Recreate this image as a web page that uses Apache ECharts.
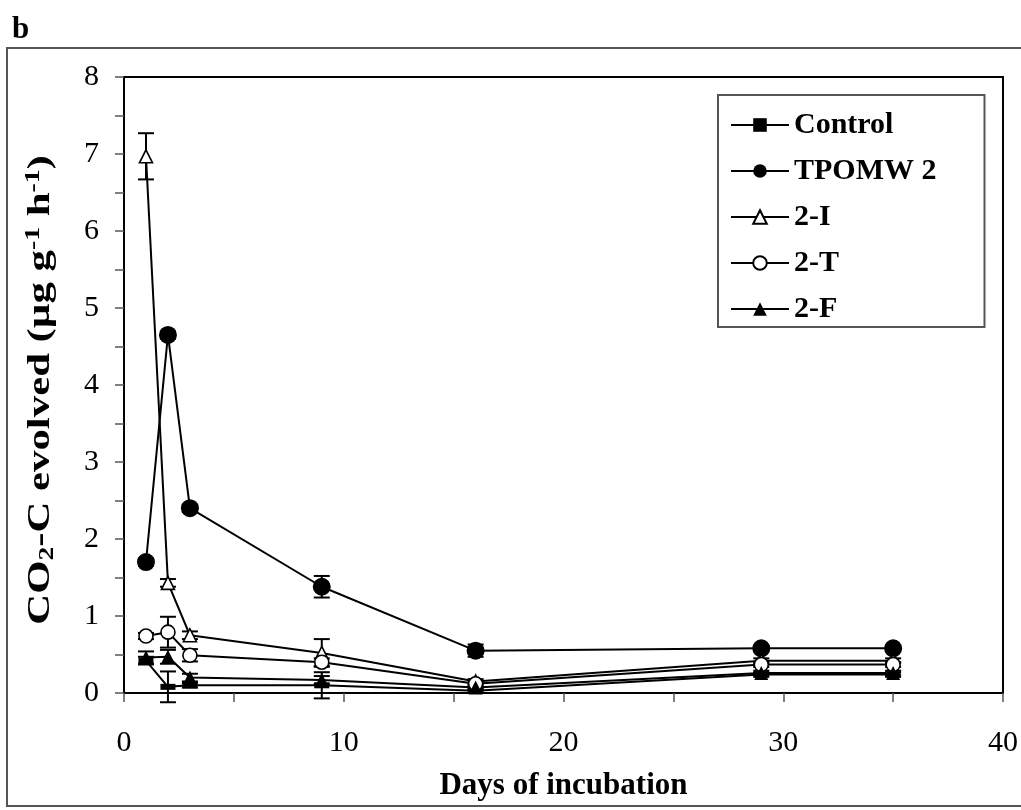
<!DOCTYPE html>
<html>
<head>
<meta charset="utf-8">
<script src="https://cdn.jsdelivr.net/npm/echarts@6/dist/echarts.min.js"></script>
<style>
  html, body { margin: 0; padding: 0; background: #fff; }
  #chart { width: 1021px; height: 810px; }
</style>
</head>
<body>
<div id="chart"></div>
<script>
// ---- data ----
var days = [1, 2, 3, 9, 16, 29, 35];
var seriesNames = ['Control', 'TPOMW 2', '2-I', '2-T', '2-F'];
var control = [0.42, 0.08, 0.10, 0.10, 0.03, 0.24, 0.24];
var tpomw2  = [1.70, 4.65, 2.40, 1.38, 0.55, 0.58, 0.58];
var s2I     = [6.97, 1.43, 0.75, 0.52, 0.15, 0.42, 0.42];
var s2T     = [0.74, 0.79, 0.49, 0.40, 0.12, 0.37, 0.37];
var s2F     = [0.46, 0.47, 0.20, 0.17, 0.07, 0.26, 0.26];
var controlErr = [0.05, 0.20, 0.03, 0.17, 0.02, 0.03, 0.03];
var tpomw2Err  = [0.05, 0.05, 0.05, 0.14, 0.08, 0.03, 0.03];
var s2IErr     = [0.30, 0.05, 0.05, 0.18, 0.03, 0.03, 0.03];
var s2TErr     = [0.04, 0.20, 0.08, 0.05, 0.02, 0.03, 0.03];
var s2FErr     = [0.08, 0.09, 0.05, 0.05, 0.02, 0.03, 0.03];
var xTicks = [0, 10, 20, 30, 40];
var yTicks = [0, 1, 2, 3, 4, 5, 6, 7, 8];

var FONT = 'Liberation Serif';

function pairs(vals) {
  return days.map(function (d, i) { return [d, vals[i]]; });
}
function errData(vals, errs) {
  return days.map(function (d, i) { return [d, vals[i] - errs[i], vals[i] + errs[i]]; });
}

function errSeries(name, vals, errs) {
  return {
    name: name + ' err',
    type: 'custom',
    z: 1,
    clip: false,
    silent: true,
    data: errData(vals, errs),
    encode: { x: 0, y: [1, 2] },
    renderItem: function (params, api) {
      var x = api.value(0);
      var lo = api.coord([x, api.value(1)]);
      var hi = api.coord([x, api.value(2)]);
      var hw = 8;
      var st = { stroke: '#000', lineWidth: 2 };
      return {
        type: 'group',
        children: [
          { type: 'line', shape: { x1: lo[0], y1: lo[1], x2: hi[0], y2: hi[1] }, style: st },
          { type: 'line', shape: { x1: lo[0] - hw, y1: lo[1], x2: lo[0] + hw, y2: lo[1] }, style: st },
          { type: 'line', shape: { x1: hi[0] - hw, y1: hi[1], x2: hi[0] + hw, y2: hi[1] }, style: st }
        ]
      };
    }
  };
}

function lineSeries(name, vals, symbol, size, fill) {
  return {
    name: name,
    type: 'line',
    z: 3,
    data: pairs(vals),
    symbol: symbol,
    symbolSize: size,
    showAllSymbol: true,
    clip: false,
    lineStyle: { color: '#000', width: 2 },
    itemStyle: { color: fill, borderColor: '#000', borderWidth: fill === '#fff' ? 1.6 : 0 },
    emphasis: { disabled: true }
  };
}

var chart = echarts.init(document.getElementById('chart'));
var option = {
  backgroundColor: '#fff',
  animation: false,
  grid: {
    left: 124, top: 77, right: 18, bottom: 117,
    show: true, borderColor: '#000', borderWidth: 2, backgroundColor: 'transparent'
  },
  xAxis: {
    type: 'value', min: 0, max: 40, interval: 5,
    axisLine: { show: true, lineStyle: { color: '#000', width: 2 } },
    axisTick: { show: true, inside: false, length: 9, lineStyle: { color: '#555', width: 1.5 } },
    splitLine: { show: false },
    axisLabel: {
      margin: 35,
      fontFamily: FONT, fontSize: 30, color: '#000',
      formatter: function (v) { return xTicks.indexOf(v) >= 0 ? String(v) : ''; }
    },
    name: 'Days of incubation',
    nameLocation: 'middle',
    nameGap: 77,
    nameTextStyle: { fontFamily: FONT, fontSize: 31, fontWeight: 'bold', color: '#000' }
  },
  yAxis: {
    type: 'value', min: 0, max: 8, interval: 0.5,
    axisLine: { show: true, lineStyle: { color: '#000', width: 2 } },
    axisTick: { show: true, inside: false, length: 9, lineStyle: { color: '#555', width: 1.5 } },
    splitLine: { show: false },
    axisLabel: {
      margin: 25,
      fontFamily: FONT, fontSize: 30, color: '#000',
      formatter: function (v) { return yTicks.indexOf(v) >= 0 ? String(v) : ''; }
    }
  },
  legend: {
    data: seriesNames,
    orient: 'vertical',
    left: 718, top: 95,
    itemWidth: 58, itemHeight: 17, itemGap: 16,
    padding: [15, 48, 3, 12],
    borderColor: '#555', borderWidth: 2, backgroundColor: '#fff',
    selectedMode: false,
    textStyle: { fontFamily: FONT, fontSize: 30, fontWeight: 'bold', color: '#000' }
  },
  graphic: [
    {
      type: 'rect', silent: true, z: -10,
      shape: { x: 7, y: 48, width: 1040, height: 758 },
      style: { fill: 'none', stroke: '#555', lineWidth: 2 }
    },
    {
      type: 'text', silent: true,
      x: 12, y: 14,
      style: { text: 'b', font: 'bold 31px "Liberation Serif"', fill: '#000', align: 'left', verticalAlign: 'top' }
    },
    {
      type: 'text', silent: true,
      x: 41, y: 390, rotation: Math.PI / 2, scaleX: 1.38, scaleY: 1,
      style: {
        text: '{a|CO}{s|2}{a|-C evolved (µg g}{p|-1}{a| h}{p|-1}{a|)}',
        align: 'center', verticalAlign: 'middle', fill: '#000',
        rich: {
          a: { fontFamily: FONT, fontSize: 31, fontWeight: 'bold', lineHeight: 34, verticalAlign: 'middle' },
          s: { fontFamily: FONT, fontSize: 20, fontWeight: 'bold', lineHeight: 15, verticalAlign: 'bottom' },
          p: { fontFamily: FONT, fontSize: 20, fontWeight: 'bold', lineHeight: 21, verticalAlign: 'top' }
        }
      }
    }
  ],
  series: [
    errSeries('Control', control, controlErr),
    errSeries('TPOMW 2', tpomw2, tpomw2Err),
    errSeries('2-I', s2I, s2IErr),
    errSeries('2-T', s2T, s2TErr),
    errSeries('2-F', s2F, s2FErr),
    lineSeries('Control', control, 'path://M0 0H5V2H0Z', [15, 6], '#000'),
    lineSeries('TPOMW 2', tpomw2, 'circle', 18, '#000'),
    lineSeries('2-I', s2I, 'triangle', 13, '#fff'),
    lineSeries('2-T', s2T, 'circle', 14, '#fff'),
    lineSeries('2-F', s2F, 'triangle', 14, '#000')
  ]
};
chart.setOption(option);
</script>
</body>
</html>
